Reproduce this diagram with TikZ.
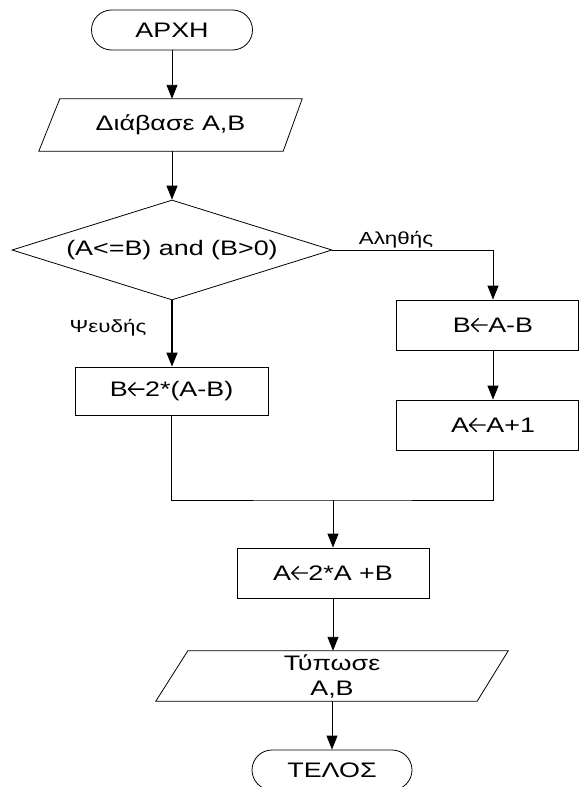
\documentclass[tikz,border=0pt]{standalone}
\usepackage{fontspec}
\setmainfont{Liberation Sans}[FakeStretch=1.28]
\usetikzlibrary{arrows.meta,shapes.geometric}
\newcommand\larr{\tikz[baseline=0pt,x=1pt,y=1pt]\draw[line width=1.4pt,line join=round] (17,7.3) -- (1,7.3) (8,0.6) -- (1,7.3) -- (8,14);}
\begin{document}
\begin{tikzpicture}[x=1pt,y=-1pt,
  every node/.style={font=\fontsize{21}{25}\selectfont},
  term/.style={draw, line width=0.8pt, rounded corners=20pt, minimum width=161pt, minimum height=40pt, inner sep=0pt},
  proc/.style={draw, line width=0.8pt, minimum height=50pt, inner sep=0pt},
  iobox/.style={inner sep=0pt},
  dec/.style={draw, line width=0.8pt, diamond, aspect=3.2, minimum width=320pt, minimum height=100pt, inner sep=0pt},
  lbl/.style={font=\fontsize{17.5}{20}\selectfont, inner sep=0pt},
  arr/.style={-{Triangle[length=14pt,width=11pt]}},
  conn/.style={line width=0.9pt}]
\path[use as bounding box] (0,0) rectangle (579,787);
\clip (0,0) rectangle (579,787);

\node[term] (start) at (172,30) {ΑΡΧΗ};

\node[iobox, minimum width=263pt, minimum height=52pt] (read) at (170.5,125) {Διάβασε A,B};
\draw[line width=0.8pt] ([xshift=21pt]read.north west) -- (read.north east) -- ([xshift=-19pt]read.south east) -- (read.south west) -- cycle;

\node[dec] (dec) at (172,250) {(A<=B) and (B>0)};

\node[proc, minimum width=193pt, minimum height=48pt] (b1) at (171.5,391) {B\larr2*(A-B)};
\node[proc, minimum width=182pt] (b2) at (487,325) {\hspace*{12pt}B\larr A-B};
\node[proc, minimum width=182pt] (b3) at (487,425) {\hspace*{12pt}A\larr A+1};
\node[proc, minimum width=192pt] (b4) at (333,573) {A\larr2*A +B};

\node[iobox, minimum width=352pt, minimum height=50pt, align=center] (print) at (332,676) {Τύπωσε\\A,B};
\draw[line width=0.8pt] ([xshift=32pt]print.north west) -- (print.north east) -- ([xshift=-31pt]print.south east) -- (print.south west) -- cycle;

\node[term, minimum width=160pt] (end) at (332,770) {ΤΕΛΟΣ};

\node[lbl] (tlab) at (396,240) {Αληθής};
\node[lbl] (flab) at (108,328) {Ψευδής};

\coordinate (tcorner) at (493,250);
\coordinate (join) at (333,500);

\draw[conn,arr] (start.south) -- (start.south |- read.north);
\draw[conn,arr] (dec.north |- read.south) -- (dec.north);
\draw[conn,arr] (dec.east) -- (tcorner) -- (tcorner |- b2.north);
\draw[line width=1.6pt,arr] (dec.south) -- (dec.south |- b1.north);
\draw[conn,arr] (tcorner |- b2.south) -- (tcorner |- b3.north);
\draw[conn] (b1.south) |- (join) -| (tcorner |- b3.south);
\draw[conn,arr] (join) -- (join |- b4.north);
\draw[conn,arr] (b4.south) -- (b4.south |- print.north);
\draw[conn,arr] (end.north |- print.south) -- (end.north);
\end{tikzpicture}
\end{document}
